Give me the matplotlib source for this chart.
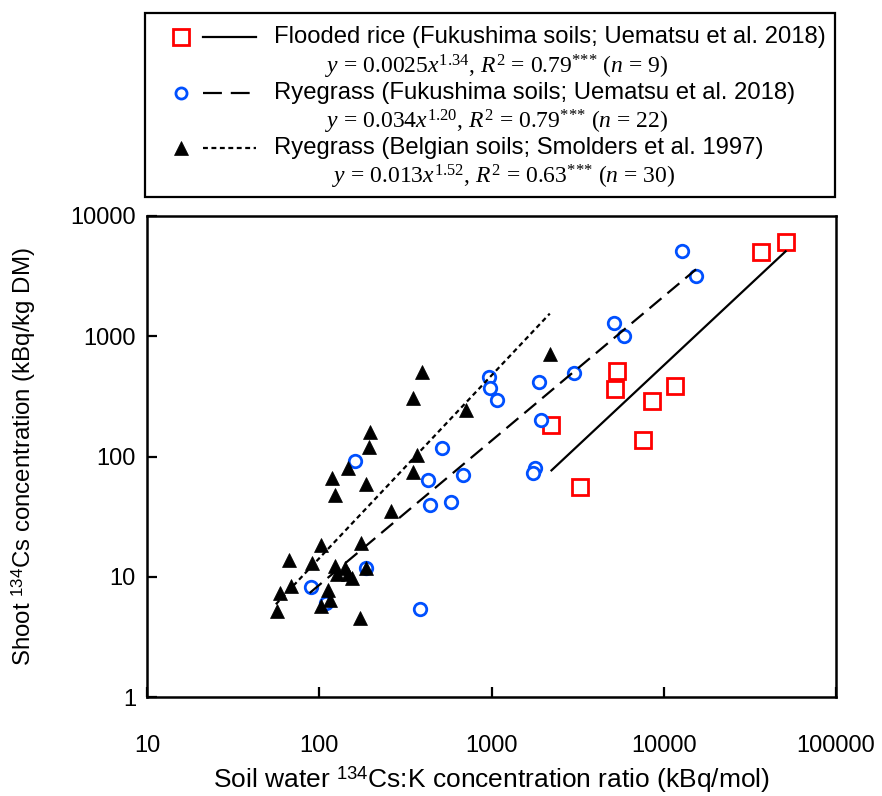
import numpy as np
import matplotlib
matplotlib.use("Agg")
import matplotlib.pyplot as plt
from matplotlib.lines import Line2D
from matplotlib.patches import Rectangle

plt.rcParams['font.family'] = ['Liberation Sans', 'DejaVu Sans']
plt.rcParams['mathtext.fontset'] = 'custom'
plt.rcParams['mathtext.rm'] = 'Liberation Serif'
plt.rcParams['mathtext.it'] = 'Liberation Serif:italic'
plt.rcParams['mathtext.sf'] = 'Liberation Sans'

# ---- data ----
rice_x = [51000, 36600, 5370, 5180, 11600, 8490, 7590, 2230, 3260]
rice_y = [6110, 4990, 516, 364, 387, 289, 136, 183, 55.3]

ryef_x = [12800, 15400, 5150, 5890, 3020, 1890, 1940, 1790, 1750, 966, 983,
          1080, 513, 429, 685, 439, 579, 89.5, 188, 110, 386, 161]
ryef_y = [5150, 3170, 1296, 1005, 491, 416, 202, 79.6, 73.2, 458, 369,
          293, 118, 63.3, 70.0, 39.2, 41.8, 8.15, 11.9, 6.0, 5.35, 91.6]

ryeb_x = [2183, 393, 352, 707, 197, 194, 367, 146, 351, 118, 186, 123, 260,
          102, 175, 67, 90.3, 123, 126, 142, 147, 155, 188, 69, 59.2, 113,
          115, 102, 56.8, 172]
ryeb_y = [707, 507, 309, 243, 161, 119, 102, 79.6, 74.6, 65.7, 58.7, 48.2,
          35.5, 18.3, 19.0, 13.7, 12.9, 12.3, 10.5, 11.8, 10.5, 9.7, 11.9,
          8.35, 7.3, 7.74, 6.43, 5.66, 5.17, 4.57]

# fitted power laws y = a x^b and x-range of each fitted line
fit_rice = (0.0025, 1.34, 2230, 51000)
fit_ryef = (0.034, 1.20, 88, 15400)
fit_ryeb = (0.013, 1.52, 56, 2180)

x_ticks = [10, 100, 1000, 10000, 100000]
y_ticks = [1, 10, 100, 1000, 10000]

labels = ["Flooded rice (Fukushima soils; Uematsu et al. 2018)",
          "Ryegrass (Fukushima soils; Uematsu et al. 2018)",
          "Ryegrass (Belgian soils; Smolders et al. 1997)"]
stars = r"$^{\mathrm{{*}{*}{*}}}$"
eqs = [r"$y$ = 0.0025$x^{\mathrm{1.34}}$, $R^{\mathrm{2}}$ = 0.79" + stars + r" ($n$ = 9)",
       r"$y$ = 0.034$x^{\mathrm{1.20}}$, $R^{\mathrm{2}}$ = 0.79" + stars + r" ($n$ = 22)",
       r"$y$ = 0.013$x^{\mathrm{1.52}}$, $R^{\mathrm{2}}$ = 0.63" + stars + r" ($n$ = 30)"]

W, H = 882, 796
fig = plt.figure(figsize=(W / 100, H / 100), dpi=100)
ax = fig.add_axes([147 / W, 1 - 697 / H, (836 - 147) / W, (697 - 216) / H])
ax.set_xscale('log')
ax.set_yscale('log')
ax.set_xlim(10, 100000)
ax.set_ylim(1, 10000)

blue = '#0050FF'
red = '#FF0000'
lw_fit = 1.6
dash_long = (7, 3.5)
dash_short = (2.2, 1.6)


def fit_line(p):
    a, b, x0, x1 = p
    xs = np.logspace(np.log10(x0), np.log10(x1), 50)
    return xs, a * xs ** b


ax.plot(rice_x, rice_y, linestyle='none', marker='s', ms=11, mfc='white',
        mec=red, mew=2.0, zorder=3)
ax.plot(ryef_x, ryef_y, linestyle='none', marker='o', ms=9, mfc='white',
        mec=blue, mew=2.0, zorder=4)
ax.plot(ryeb_x, ryeb_y, linestyle='none', marker='^', ms=10, mfc='black',
        mec='black', mew=0.5, zorder=5)

xs, ys = fit_line(fit_rice)
ax.plot(xs, ys, color='black', lw=lw_fit, zorder=6)
xs, ys = fit_line(fit_ryef)
ax.plot(xs, ys, color='black', lw=lw_fit, dashes=dash_long, zorder=6)
xs, ys = fit_line(fit_ryeb)
ax.plot(xs, ys, color='black', lw=lw_fit, dashes=dash_short, zorder=6)

ax.set_xticks(x_ticks)
ax.set_xticklabels([str(v) for v in x_ticks])
ax.set_yticks(y_ticks)
ax.set_yticklabels([str(v) for v in y_ticks])
ax.minorticks_off()
ax.tick_params(direction='in', length=7, width=1.6, labelsize=17)
ax.tick_params(axis='y', pad=8)
ax.tick_params(axis='x', pad=27)
for s in ax.spines.values():
    s.set_linewidth(1.8)

ax.set_xlabel(r"Soil water $^{\mathsf{134}}$Cs:K concentration ratio (kBq/mol)",
              fontsize=19)
ax.set_ylabel(r"Shoot $^{\mathsf{134}}$Cs concentration (kBq/kg DM)",
              fontsize=17.3)
ax.xaxis.label.set_va('center')
ax.xaxis.set_label_coords(0.5, -(780 - 697) / (697 - 216))
ax.yaxis.label.set_va('center')
ax.yaxis.set_label_coords(-(147 - 24) / (836 - 147), 0.5)

# ---- legend box (figure pixel coordinates) ----
def fx(px):
    return px / W


def fy(py):
    return 1 - py / H


fig.patches.append(Rectangle((fx(145), fy(197)), fx(835) - fx(145), fy(13) - fy(197),
                             transform=fig.transFigure, fill=False, lw=1.6,
                             edgecolor='black'))
row_y = [37, 93, 148]
eq_y = [67, 122, 177]
eq_x = [325, 325, 332]
mk = [dict(marker='s', ms=11, mfc='white', mec=red, mew=2.0),
      dict(marker='o', ms=8, mfc='white', mec=blue, mew=2.0),
      dict(marker='^', ms=10, mfc='black', mec='black', mew=0.5)]
styles = [dict(), dict(dashes=(8.5, 4)), dict(dashes=(2.2, 1.6))]
for i in range(3):
    fig.lines.append(Line2D([fx(181)], [fy(row_y[i])], transform=fig.transFigure,
                            linestyle='none', **mk[i]))
    fig.lines.append(Line2D([fx(203), fx(256)], [fy(row_y[i]), fy(row_y[i])],
                            transform=fig.transFigure, color='black', lw=1.6,
                            **styles[i]))
    fig.text(fx(274), fy(row_y[i]), labels[i], fontsize=17.2, va='center', ha='left')
    fig.text(fx(eq_x[i]), fy(eq_y[i]), eqs[i], fontsize=17, va='center', ha='left',
             family='Liberation Serif')

fig.savefig('out.png', dpi=100)
